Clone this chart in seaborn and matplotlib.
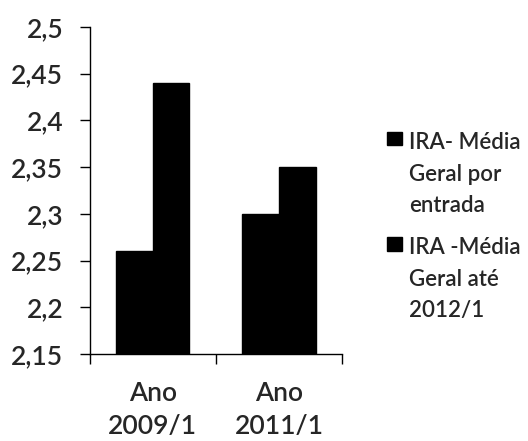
import pandas as pd
import seaborn as sns
import matplotlib.pyplot as plt
import matplotlib.ticker as mticker

# chart values
categorias = ['Ano\n2009/1', 'Ano\n2011/1']
series = ['IRA- Média\nGeral por\nentrada', 'IRA -Média\nGeral até\n2012/1']
ira_entrada = [2.26, 2.30]
ira_ate_2012 = [2.44, 2.35]
y_ticks = [2.15, 2.2, 2.25, 2.3, 2.35, 2.4, 2.45, 2.5]

df = pd.DataFrame({
    'ano': categorias * 2,
    'serie': [series[0]] * 2 + [series[1]] * 2,
    'valor': ira_entrada + ira_ate_2012,
})

sns.set_style('white')
plt.rcParams['font.family'] = ['Lato', 'DejaVu Sans']
plt.rcParams['font.weight'] = 'semibold'

fig = plt.figure(figsize=(5.28, 4.41), dpi=100)
ax = fig.add_axes([0.170, 0.197, 0.478, 0.742])

sns.barplot(data=df, x='ano', y='valor', hue='serie', palette=['black', 'black'],
            saturation=1, width=0.58, edgecolor='black', ax=ax)

ax.set_ylim(2.15, 2.5)
ax.set_xlim(-0.5, 1.5)
ax.set_yticks(y_ticks)
ax.yaxis.set_major_formatter(mticker.FuncFormatter(lambda v, p: f'{v:g}'.replace('.', ',')))
ax.tick_params(axis='y', direction='out', length=7, width=1, color='black',
               labelsize=19, pad=12, left=True)

# category labels as minor ticks, boundary ticks as major ticks
ax.set_xticks([-0.5, 0.5, 1.5])
ax.set_xticklabels(['', '', ''])
ax.set_xticks([0, 1], minor=True)
ax.set_xticklabels(categorias, minor=True, fontsize=19, linespacing=1.4)
ax.tick_params(axis='x', which='major', direction='out', length=7, width=1, color='black', bottom=True)
ax.tick_params(axis='x', which='minor', length=0, pad=19)

for s in ['top', 'right']:
    ax.spines[s].set_visible(False)
for s in ['left', 'bottom']:
    ax.spines[s].set_color('black')
    ax.spines[s].set_linewidth(1)

ax.set_xlabel('')
ax.set_ylabel('')

fs = 16
ls = 1.62
handles, labels = ax.get_legend_handles_labels()
leg = ax.legend(handles, labels, loc='center left', bbox_to_anchor=(0.733, 0.486),
                bbox_transform=fig.transFigure, frameon=False, fontsize=fs,
                handlelength=0.68, handleheight=0.55, handletextpad=0.32,
                labelspacing=0.95, borderaxespad=0, borderpad=0)
for t in leg.get_texts():
    t.set_linespacing(ls)
# put the square next to the first line of each label
for p in leg.get_patches():
    p.set_y(p.get_y() + fs * ls)

fig.savefig('out.png', dpi=100)
